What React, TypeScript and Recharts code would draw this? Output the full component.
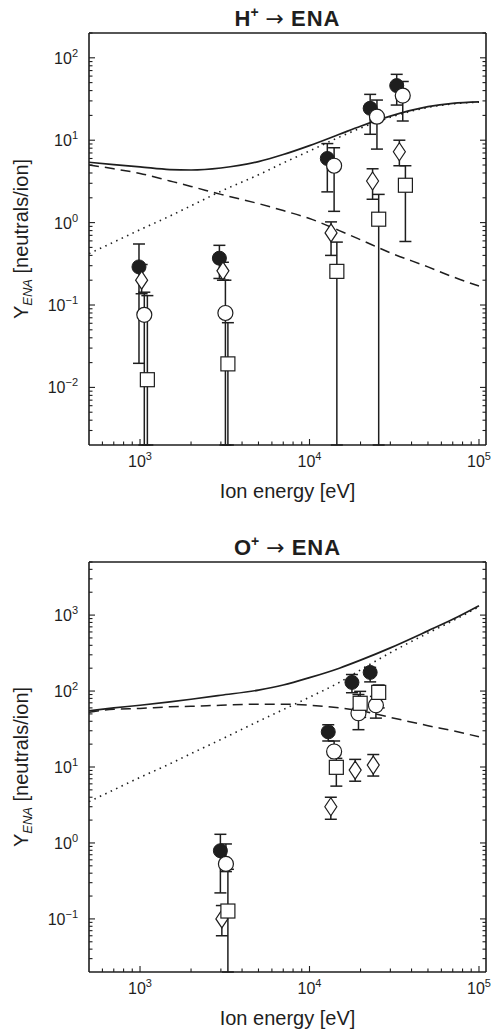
import React from 'react'
import { ComposedChart, Line, Scatter, ErrorBar, XAxis, YAxis } from 'recharts'

const FONT = '"Liberation Sans", Arial, Helvetica, sans-serif'
const INK = '#1e1e1e'

// energies where the model curves are sampled [eV]
const ENERGY = [500, 700, 1000, 1500, 2000, 3000, 5000, 7000, 10000, 15000, 20000, 30000, 50000, 70000, 100000]

// H+ -> ENA model curves
const H_SOLID = [5.4, 5.05, 4.75, 4.4, 4.35, 4.6, 5.5, 6.7, 8.6, 11.8, 14.8, 19.6, 25.5, 28, 29.2]
const H_DASHED = [5.0, 4.5, 3.95, 3.2, 2.75, 2.2, 1.7, 1.4, 1.12, 0.8, 0.62, 0.43, 0.29, 0.22, 0.17]
const H_DOTTED = [0.42, 0.58, 0.82, 1.2, 1.6, 2.4, 3.8, 5.3, 7.4, 10.9, 14, 19, 25, 27.6, 29]

// O+ -> ENA model curves
const O_SOLID = [55, 60, 65, 72, 78, 88, 103, 120, 150, 200, 255, 370, 620, 880, 1330]
const O_DASHED = [52.5, 57.5, 59, 62, 63, 65, 67, 67, 65, 60, 55, 45, 35, 30, 25]
const O_DOTTED = [3.5, 5.0, 7.3, 11, 15, 23, 40, 57, 83, 130, 190, 320, 580, 840, 1290]

// measurements: [energy, yield, lower bound, upper bound]  (lower 0 = runs off the axis)
const H_FILLED = [[986, 0.29, 0.0196, 0.55], [2940, 0.37, 0.21, 0.53], [12740, 6.0, 2.36, 9.1], [22800, 24.4, 11.8, 36], [32700, 46, 26.7, 63]]
const H_OPEN = [[1060, 0.076, 0, 0.143], [3190, 0.08, 0, 0.2], [13970, 4.9, 1.37, 8.1], [25000, 19.3, 7.8, 30.7], [35500, 34.8, 17.1, 51.6]]
const H_DIAMOND = [[1022, 0.2, 0.137, 0.31], [3085, 0.26, 0.2, 0.33], [13400, 0.75, 0.4, 1.02], [23560, 3.2, 1.92, 4.5], [33900, 7.25, 4.9, 10.0]]
const H_SQUARE = [[1105, 0.0124, 0, 0.13], [3300, 0.0193, 0, 0.061], [14500, 0.256, 0, 0.58], [25600, 1.1, 0, 2.2], [36800, 2.84, 0.59, 4.9]]

const O_FILLED = [[2980, 0.79, 0.22, 1.3], [12900, 29, 22, 36], [17800, 130, 95, 165], [22800, 176, 132, 205]]
const O_OPEN = [[3213, 0.53, 0.42, 0.97], [13970, 16, 14, 22], [19450, 51, 31, 90], [24650, 65, 44, 85]]
const O_DIAMOND = [[3040, 0.1, 0.06, 0.15], [13360, 3.0, 2.05, 4.0], [18600, 9.1, 6.5, 12.6], [23780, 10.6, 7.6, 14.6]]
const O_SQUARE = [[3300, 0.127, 0, 0.45], [14400, 9.9, 5.6, 13], [19900, 69, 45, 99], [25600, 96, 60, 120]]

const X_DOMAIN = [500, 110000]
const H_Y_DOMAIN = [0.002, 200]
const O_Y_DOMAIN = [0.02, 5000]

// 1..9 x 10^k between lo and hi
function logTicks(lo: number, hi: number) {
  const out: number[] = []
  for (let k = Math.floor(Math.log10(lo)); k <= Math.ceil(Math.log10(hi)); k++) {
    for (let d = 1; d <= 9; d++) {
      const v = Number((d * Math.pow(10, k)).toPrecision(6))
      if (v > lo * 1.001 && v <= hi * 1.001) out.push(v)
    }
  }
  return out
}

const isMajor = (v: number) => {
  const l = Math.log10(v)
  return Math.abs(l - Math.round(l)) < 1e-6
}

const expText = (v: number) => {
  const e = Math.round(Math.log10(v))
  return e < 0 ? '\u2212' + -e : String(e)
}

const MAJOR = 6
const MINOR = 3.5

const tickLine = (x1: number, y1: number, x2: number, y2: number) => (
  <line x1={x1} y1={y1} x2={x2} y2={y2} stroke={INK} strokeWidth={1.1} />
)

const BottomTick = ({ x, y, payload }: any) => {
  const major = isMajor(payload.value)
  return (
    <g>
      {tickLine(x, y, x, y - (major ? MAJOR : MINOR))}
      {major && (
        <text x={x} y={y + 22} textAnchor="middle" fontSize={16} fontFamily={FONT} fill={INK}>
          10<tspan dy={-7} fontSize={11}>{expText(payload.value)}</tspan>
        </text>
      )}
    </g>
  )
}

const TopTick = ({ x, y, payload }: any) => {
  const major = isMajor(payload.value)
  return <g>{tickLine(x, y, x, y + (major ? MAJOR : MINOR))}</g>
}

const LeftTick = ({ x, y, payload }: any) => {
  const major = isMajor(payload.value)
  return (
    <g>
      {tickLine(x, y, x + (major ? MAJOR : MINOR), y)}
      {major && (
        <text x={x - 11} y={y + 6} textAnchor="end" fontSize={16} fontFamily={FONT} fill={INK}>
          10<tspan dy={-7} fontSize={11}>{expText(payload.value)}</tspan>
        </text>
      )}
    </g>
  )
}

const RightTick = ({ x, y, payload }: any) => {
  const major = isMajor(payload.value)
  return <g>{tickLine(x, y, x - (major ? MAJOR : MINOR), y)}</g>
}

const FilledCircle = ({ cx, cy }: any) => <circle cx={cx} cy={cy} r={7} fill={INK} stroke={INK} strokeWidth={1} />
const OpenCircle = ({ cx, cy }: any) => <circle cx={cx} cy={cy} r={7.5} fill="#fff" stroke={INK} strokeWidth={1.2} />
const Diamond = ({ cx, cy }: any) => (
  <path d={`M${cx},${cy - 9}L${cx + 6},${cy}L${cx},${cy + 9}L${cx - 6},${cy}Z`} fill="#fff" stroke={INK} strokeWidth={1.2} />
)
const Square = ({ cx, cy }: any) => (
  <rect x={cx - 7} y={cy - 7} width={14} height={14} fill="#fff" stroke={INK} strokeWidth={1.2} />
)

// error bars that run off the plot stop at the axis floor
const toPoints = (rows: number[][], floor: number) =>
  rows.map(([e, y, lo, hi]) => ({ e, y, err: [y - (lo > 0 ? lo : floor), hi - y] }))

type PanelProps = {
  title: string
  solid: number[]
  dashed: number[]
  dotted: number[]
  filled: number[][]
  open: number[][]
  diamond: number[][]
  square: number[][]
  yDomain: number[]
  top: number
  margin: { top: number; right: number; bottom: number; left: number }
}

function Panel({ title, solid, dashed, dotted, filled, open, diamond, square, yDomain, top, margin }: PanelProps) {
  const curves = ENERGY.map((e, i) => ({ e, solid: solid[i], dashed: dashed[i], dotted: dotted[i] }))
  const xTicks = logTicks(X_DOMAIN[0], X_DOMAIN[1])
  const yTicks = logTicks(yDomain[0], yDomain[1])
  const axisLine = { stroke: INK, strokeWidth: 1.6 }
  const series: [number[][], (p: any) => React.ReactElement][] = [
    [filled, FilledCircle],
    [diamond, Diamond],
    [open, OpenCircle],
    [square, Square],
  ]

  return (
    <div style={{ position: 'absolute', left: 0, top }}>
      <ComposedChart width={493} height={515} data={curves} margin={margin}>
        <XAxis
          dataKey="e"
          type="number"
          scale="log"
          domain={X_DOMAIN}
          allowDataOverflow
          ticks={xTicks}
          interval={0}
          tickSize={0}
          tickMargin={0}
          height={1}
          axisLine={axisLine}
          tick={BottomTick}
          label={{
            content: ({ viewBox }: any) => (
              <text x={viewBox.x + viewBox.width / 2} y={viewBox.y + 53} textAnchor="middle" fontSize={20} fontFamily={FONT} fill={INK}>
                Ion energy [eV]
              </text>
            ),
          }}
        />
        <XAxis
          xAxisId="top"
          orientation="top"
          type="number"
          scale="log"
          domain={X_DOMAIN}
          allowDataOverflow
          ticks={xTicks}
          interval={0}
          tickSize={0}
          tickMargin={0}
          height={1}
          axisLine={axisLine}
          tick={TopTick}
          label={{
            content: ({ viewBox }: any) => (
              <text x={viewBox.x + viewBox.width / 2} y={viewBox.y + viewBox.height - 7} textAnchor="middle" fontSize={22} fontWeight="bold" fontFamily={FONT} fill={INK}>
                {title}
                <tspan dy={-9} fontSize={14}>+</tspan>
                <tspan dy={9} fontWeight="normal" fontFamily="DejaVu Sans" fontSize={22}>{' \u2192 '}</tspan>
                <tspan letterSpacing={1}>ENA</tspan>
              </text>
            ),
          }}
        />
        <YAxis
          type="number"
          scale="log"
          domain={yDomain}
          allowDataOverflow
          ticks={yTicks}
          interval={0}
          tickSize={0}
          tickMargin={0}
          width={1}
          axisLine={axisLine}
          tick={LeftTick}
          label={{
            content: ({ viewBox }: any) => {
              const cx = 28
              const cy = viewBox.y + viewBox.height / 2
              return (
                <text x={cx} y={cy} transform={`rotate(-90, ${cx}, ${cy})`} textAnchor="middle" fontSize={20} fontFamily={FONT} fill={INK}>
                  Y<tspan dy={4} fontSize={13} fontStyle="italic">ENA</tspan>
                  <tspan dy={-4}>{'  [neutrals/ion]'}</tspan>
                </text>
              )
            },
          }}
        />
        <YAxis
          yAxisId="right"
          orientation="right"
          type="number"
          scale="log"
          domain={yDomain}
          allowDataOverflow
          ticks={yTicks}
          interval={0}
          tickSize={0}
          tickMargin={0}
          width={1}
          axisLine={axisLine}
          tick={RightTick}
        />
        <Line dataKey="dashed" type="monotone" stroke={INK} strokeWidth={1.5} strokeDasharray="10 6" dot={false} activeDot={false} isAnimationActive={false} />
        <Line dataKey="dotted" type="monotone" stroke={INK} strokeWidth={1.6} strokeDasharray="1.5 4.5" dot={false} activeDot={false} isAnimationActive={false} />
        <Line dataKey="solid" type="monotone" stroke={INK} strokeWidth={1.7} dot={false} activeDot={false} isAnimationActive={false} />
        {series.map(([rows, shape], i) => (
          <Scatter key={i} data={toPoints(rows, yDomain[0])} dataKey="y" shape={shape} isAnimationActive={false}>
            <ErrorBar dataKey="err" direction="y" width={6} stroke={INK} strokeWidth={1.5} />
          </Scatter>
        ))}
      </ComposedChart>
    </div>
  )
}

export default function App() {
  return (
    <div style={{ position: 'absolute', left: 0, top: 0, width: 493, height: 1031, background: '#fff' }}>
      <Panel
        title="H"
        solid={H_SOLID}
        dashed={H_DASHED}
        dotted={H_DOTTED}
        filled={H_FILLED}
        open={H_OPEN}
        diamond={H_DIAMOND}
        square={H_SQUARE}
        yDomain={H_Y_DOMAIN}
        top={0}
        margin={{ top: 32, right: 6, bottom: 69, left: 88 }}
      />
      <Panel
        title="O"
        solid={O_SOLID}
        dashed={O_DASHED}
        dotted={O_DOTTED}
        filled={O_FILLED}
        open={O_OPEN}
        diamond={O_DIAMOND}
        square={O_SQUARE}
        yDomain={O_Y_DOMAIN}
        top={515}
        margin={{ top: 46, right: 6, bottom: 57, left: 88 }}
      />
    </div>
  )
}
